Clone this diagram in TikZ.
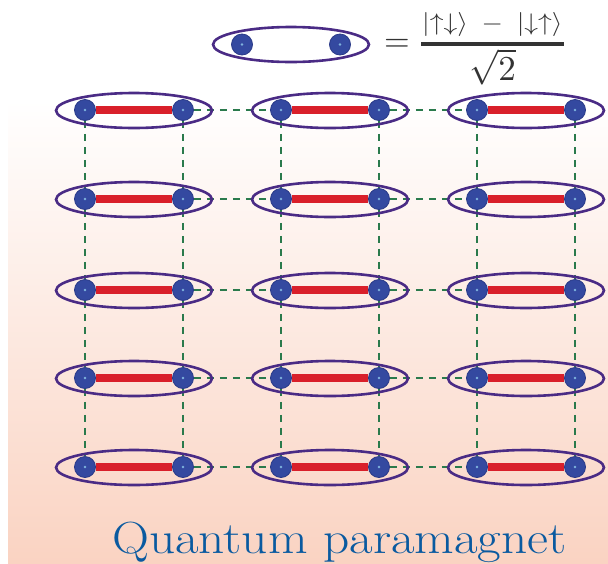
\documentclass[tikz,border=0pt]{standalone}
\usepackage{graphicx}
\usetikzlibrary{shapes.geometric}
\definecolor{ellcol}{HTML}{4A2B85}
\definecolor{dotblue}{HTML}{3449A0}
\definecolor{dotedge}{HTML}{2A3A88}
\definecolor{dotlight}{HTML}{7FB4DE}
\definecolor{bondred}{HTML}{D91F2A}
\definecolor{dashgreen}{HTML}{2A7A4C}
\definecolor{peach}{HTML}{FAD3C2}
\definecolor{textgray}{HTML}{333333}
\definecolor{titleblue}{HTML}{0A5AA0}
\pgfdeclarelayer{back}
\pgfdeclarelayer{bg}
\pgfsetlayers{back,bg,main}
\tikzset{
  pairell/.style={ellipse, draw=ellcol, line width=2.6pt, minimum width=156pt, minimum height=35pt, inner sep=0pt},
  spin/.style={circle, fill=dotblue, draw=dotedge, line width=0.8pt, minimum size=21pt, inner sep=0pt,
    path picture={\fill[dotlight] (path picture bounding box.center) circle (1.3pt);}},
  bond/.style={bondred, line width=8pt},
  dashline/.style={dashgreen, line width=1.4pt, dash pattern=on 7pt off 6pt},
  formula/.style={text=textgray, inner sep=0pt},
}
\begin{document}
\begin{tikzpicture}[x=1pt,y=-1pt]
\useasboundingbox (0,0) rectangle (608,563);
\begin{pgfonlayer}{back}
\shade[top color=white, bottom color=peach] (8,100) rectangle (608,563);
\end{pgfonlayer}
% legend
\node[pairell] (legell) at (291,44.5) {};
\node[spin] (ld1) at (242,44.5) {};
\node[spin] (ld2) at (340,44.5) {};
\node[formula] (eq) at (397,45) {\scalebox{3.3}{$=$}};
\node[formula] (num) at (492.5,24) {\scalebox{2.75}[2.4]{$|{\uparrow\downarrow}\rangle \;-\; |{\downarrow\uparrow}\rangle$}};
\coordinate (barl) at (421,44);
\coordinate (barr) at (564,44);
\draw[textgray, line width=4pt] (barl) -- (barr);
\node[formula] (den) at (492.5,67) {\scalebox{3.5}{$\sqrt{2}$}};
% lattice
\foreach \r/\y in {1/110,2/199,3/290,4/378,5/467}{
  \foreach \g/\cx in {1/134,2/330,3/526}{
    \node[pairell] (e-\r-\g) at (\cx,\y+0.5) {};
  }
  \foreach \c/\x in {1/85,2/183,3/281,4/379,5/477,6/575}{
    \node[spin] (d-\r-\c) at (\x,\y) {};
  }
}
\begin{pgfonlayer}{bg}
\foreach \c in {1,...,6}{
  \foreach \r [evaluate=\r as \n using int(\r+1)] in {1,...,4}{
    \draw[dashline] (d-\r-\c) -- (d-\n-\c);
  }
}
\foreach \r in {1,...,5}{
  \draw[dashline] (d-\r-2) -- (d-\r-3);
  \draw[dashline] (d-\r-4) -- (d-\r-5);
  \draw[bond] (d-\r-1) -- (d-\r-2);
  \draw[bond] (d-\r-3) -- (d-\r-4);
  \draw[bond] (d-\r-5) -- (d-\r-6);
}
\end{pgfonlayer}
\node[anchor=base west, text=titleblue, font=\fontsize{45}{54}\selectfont, inner sep=0pt] (title) at (112,553) {\scalebox{1.14}[1]{Quantum paramagnet}};
\end{tikzpicture}
\end{document}
